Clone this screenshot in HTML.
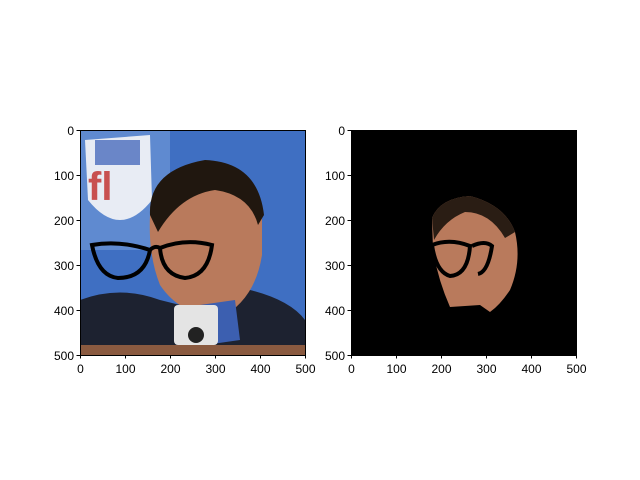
<!DOCTYPE html>
<html><head><meta charset="utf-8"><style>
body{margin:0;background:#fff;}
svg{display:block;font-family:"Liberation Sans","DejaVu Sans",sans-serif;}
</style></head><body>
<svg id="fig" width="640" height="480" viewBox="0 0 640 480">
<defs>
<clipPath id="c1"><rect x="80" y="130" width="225" height="225"/></clipPath>
<clipPath id="c2"><rect x="351" y="130" width="225" height="225"/></clipPath>
</defs>
<g clip-path="url(#c1)">
<rect x="80" y="130" width="225" height="225" fill="#3f6fc2"/>
<rect x="80" y="130" width="90" height="120" fill="#5f8ad0"/>
<path d="M85 140 L150 135 L152 200 Q120 240 88 200 Z" fill="#e8ecf4"/>
<path d="M95 140 h45 v25 h-45z" fill="#6a86c8"/>
<text x="88" y="200" font-size="40" fill="#c85050" font-weight="bold">fl</text>
<path d="M80 300 Q120 285 160 300 L200 310 L250 290 Q290 300 305 320 V355 H80Z" fill="#1d2230"/>
<path d="M150 215 Q155 170 205 162 Q255 165 262 210 L262 255 Q255 300 220 318 Q180 315 160 285 Q148 255 150 215Z" fill="#b97a5c"/>
<path d="M150 215 Q148 170 205 160 Q258 162 264 215 L258 225 Q250 195 215 190 Q180 195 158 232 Z" fill="#20170f"/>
<path d="M200 305 L235 300 L240 340 L205 345Z" fill="#3c5fb0"/>
<rect x="174" y="305" width="44" height="40" rx="4" fill="#e4e4e4"/>
<circle cx="196" cy="335" r="8" fill="#222"/>
<rect x="80" y="345" width="225" height="10" fill="#8a5a40"/>
<g fill="none" stroke="#000" stroke-width="4">
<path d="M92 245 Q120 240 150 250 Q145 278 118 278 Q98 276 92 245Z"/>
<path d="M160 248 Q185 238 212 245 Q208 276 185 278 Q162 275 160 248Z"/>
<path d="M150 250 Q155 245 160 248"/>
</g>
</g>
<rect x="351" y="130" width="225" height="225" fill="#000"/>
<g clip-path="url(#c2)">
<path d="M432 218 Q440 198 470 196 Q505 205 515 232 Q522 262 510 290 Q500 305 490 312 L480 305 L450 307 Q438 280 433 250Z" fill="#b97a5c"/>
<path d="M432 218 Q440 198 470 196 Q505 205 515 232 L505 238 Q490 212 465 212 Q445 220 434 240Z" fill="#2a1d14"/>
<g fill="none" stroke="#000" stroke-width="4">
<path d="M432 245 Q450 238 470 246 Q468 275 450 276 Q436 272 432 245Z"/>
<path d="M472 246 Q485 240 492 246 Q488 272 478 274"/>
</g>
</g>
<g id="axes" fill="none" stroke="#000" stroke-width="1">
<rect x="80.5" y="130.5" width="225" height="225"/>
<rect x="351.5" y="130.5" width="225" height="225"/>
</g>
<g id="ticks"></g>
</svg>
<script>
const xTicks=[0,100,200,300,400,500];
const yTicks=[0,100,200,300,400,500];
const axesLeft=[80,351];
const g=document.getElementById('ticks');
const NS='http://www.w3.org/2000/svg';
function sx(x0,v){return x0+v*0.45;}
function sy(v){return 130+v*0.45;}
axesLeft.forEach((x0,ai)=>{
 xTicks.forEach(v=>{
  const x=sx(x0,v)+0.5;
  const l=document.createElementNS(NS,'line');
  l.setAttribute('x1',x);l.setAttribute('x2',x);l.setAttribute('y1',355);l.setAttribute('y2',358.5);l.setAttribute('stroke','#000');
  
  
  g.appendChild(l);
  const t=document.createElementNS(NS,'text');
  t.setAttribute('x',x);t.setAttribute('y',373);t.setAttribute('text-anchor','middle');t.setAttribute('font-size','12');
  t.textContent=v;
  
  
  g.appendChild(t);
 });
 yTicks.forEach(v=>{
  const y=sy(v)+0.5;
  const l=document.createElementNS(NS,'line');
  l.setAttribute('x1',x0-3.5);l.setAttribute('x2',x0);l.setAttribute('y1',y);l.setAttribute('y2',y);l.setAttribute('stroke','#000');
  
  
  g.appendChild(l);
  const t=document.createElementNS(NS,'text');
  t.setAttribute('x',x0-6);t.setAttribute('y',y+4.5);t.setAttribute('text-anchor','end');t.setAttribute('font-size','12');
  t.textContent=v;
  
  
  g.appendChild(t);
 });
});
</script>
</body></html>
